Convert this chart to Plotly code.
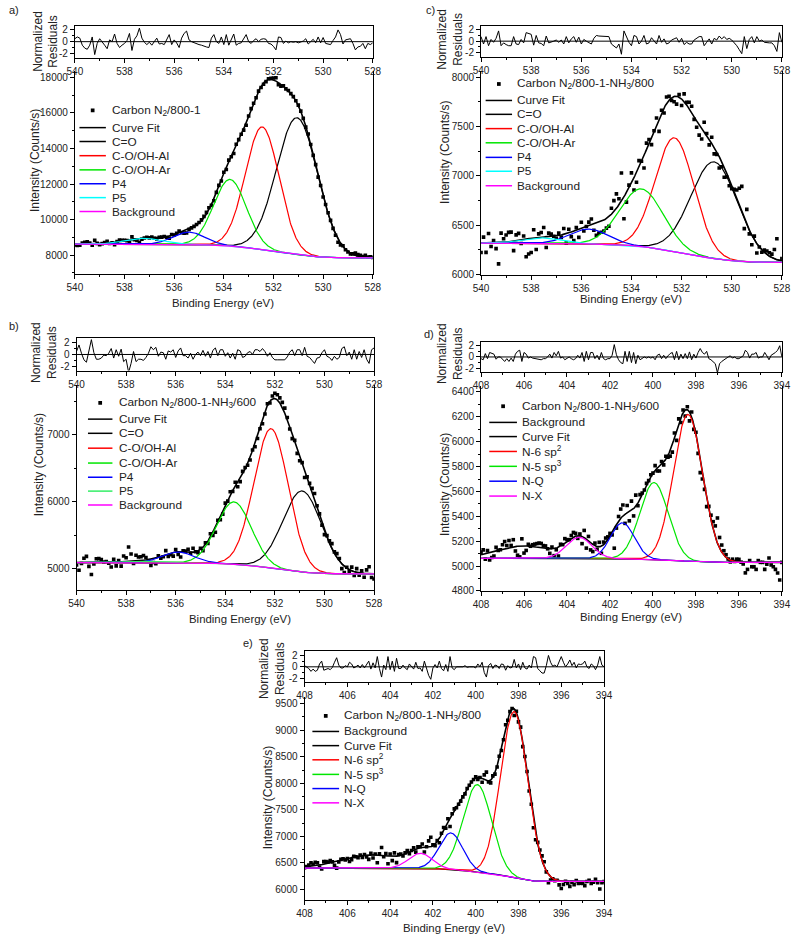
import numpy as np
import plotly.graph_objects as go

W, H = 800, 943
FONT = "Liberation Sans, Arial, Helvetica, sans-serif"

# ---------------- data ----------------
o1s_ticks = [540, 538, 536, 534, 532, 530, 528]
n1s_ticks = [408, 406, 404, 402, 400, 398, 396, 394]
resid_ticks = [-2, 0, 2]
resid_ticktext = ["-2", "0", "2"]

o1s_names = ["C=O", "C-O/OH-Al", "C-O/OH-Ar", "P4", "P5"]
n1s_names = ["N-6 sp<sup>2</sup>", "N-5 sp<sup>3</sup>", "N-Q", "N-X"]

# panel a : O1s, Carbon N2/800-1
a_sample = "Carbon N<sub>2</sub>/800-1"
a_centers = [531.05, 532.45, 533.75, 535.4, 537.2]
a_heights = [7700, 6900, 3750, 700, 330]
a_fwhm = [1.95, 1.6, 1.55, 1.5, 1.8]
a_bg = [8620, 7850]
a_yticks = [8000, 10000, 12000, 14000, 16000, 18000]
a_resid = [0.5, 0.8, 0.6, -0.6, -1.1, -1.3, -0.6, 0.8, -2.2, -0.3,
           0.5, 0.0, -0.6, -1.2, 0.3, 0.0, 1.3, -0.3, -1.0, -0.6,
           -0.3, 0.2, 1.4, -1.5, 0.4, 1.0, 2.3, 0.6, -0.1, -0.5,
           -0.1, -0.6, 0.1, 0.6, -0.4, -0.3, -0.5, 0.3, 1.2, -0.5,
           0.3, -0.2, -1.0, 0.6, 1.4, 1.8, 0.3, 0.0, -0.2, -0.4,
           -0.5, -0.6, -0.8, -0.9, -1.0, 0.6, 1.2, 0.0, -0.3, 0.8,
           -0.5, 1.2, -0.6, 0.4, 1.3, -0.6, -0.3, -0.2, 0.6, 1.2,
           0.0, -0.3, 0.2, 0.5, 0.0, 0.4, 0.5, 0.4, -0.3, -0.4,
           -0.8, -1.4, 0.8, 0.7, -0.3, 0.1, -0.2, 0.0, -0.1, 0.0,
           -0.2, -0.1, 0.1, 0.5, -0.4, 0.0, 0.4, -0.2, 0.8, -0.2,
           0.7, -0.3, -0.4, -0.5, 0.2, 0.8, 2.0, 1.2, -0.4, 0.3,
           0.4, 0.5, -0.3, -1.4, -0.9, -0.8, -0.3, -1.2, -0.3, -0.5,
           -0.2]

# panel b : O1s, Carbon N2/800-1-NH3/600
b_sample = "Carbon N<sub>2</sub>/800-1-NH<sub>3</sub>/600"
b_centers = [530.9, 532.15, 533.65, 535.9, 537.5]
b_heights = [1210, 2080, 930, 160, 20]
b_fwhm = [1.84, 1.63, 1.65, 1.5, 1.5]
b_bg = [5095, 4925]
b_yticks = [5000, 6000, 7000]
b_resid = [0.5, 1.6, 0.2, -0.9, -1.3, 0.8, 2.5, 0.3, -0.8, -0.8,
           -0.6, -0.1, -0.2, 0.2, 1.0, -0.6, 0.8, -0.3, 0.9, -1.2,
           -0.8, -3.0, -1.5, 0.5, -1.2, -0.8, -0.8, -1.0, -0.5, 0.2,
           1.3, 0.8, 1.2, -0.3, 0.4, 0.3, -0.8, 0.6, 0.4, 0.8,
           -0.5, 0.6, 1.1, -0.2, -0.2, -0.6, 0.2, -0.8, 0.0, 0.4,
           -0.2, 0.7, -0.3, 0.5, -0.6, 0.7, 1.1, -0.2, 0.8, 0.8,
           -0.3, 0.3, -0.6, 0.2, -0.8, 0.8, 0.6, -0.5, -0.3, 0.3,
           0.5, 0.0, 0.8, 0.8, 0.5, 1.0, 0.5, -0.3, 0.3, -0.5,
           -0.9, -0.9, -0.9, -0.9, -0.9, -0.4, 0.4, 0.8, -0.2, 0.8,
           0.8, -0.2, 1.2, -0.3, -0.5, -1.0, -1.5, -0.6, -0.5, 0.3,
           0.8, -0.3, -0.5, -1.0, -0.3, -0.8, -0.5, 1.0, 1.3, -0.2,
           0.4, -0.8, 0.8, -0.8, 0.5, -0.5, 0.8, -0.8, -1.5, 0.8,
           1.1]

# panel c : O1s, Carbon N2/800-1-NH3/800
c_sample = "Carbon N<sub>2</sub>/800-1-NH<sub>3</sub>/800"
c_centers = [530.7, 532.28, 533.6, 535.7, 537.6]
c_heights = [980, 1155, 585, 150, 55]
c_fwhm = [2.2, 1.82, 2.05, 1.8, 1.8]
c_bg = [6320, 6125]
c_yticks = [6000, 6500, 7000, 7500, 8000]
c_resid = [0.8, -0.5, 0.8, -0.8, 0.3, -0.2, 0.5, 1.8, -0.8, -0.3,
           -0.6, -0.8, -0.8, 0.8, -0.5, -0.6, 0.3, -0.3, 1.5, 1.3,
           1.2, -0.7, 1.0, -0.3, -0.4, -0.8, 0.9, -0.3, -0.2, 0.0,
           0.2, -0.2, 0.2, -0.5, 0.8, -0.3, 0.4, 0.8, -0.2, 0.7,
           -0.5, 0.3, 0.0, -0.3, -0.5, 0.5, 1.0, 0.9, 0.9, 0.9,
           0.8, 0.8, -0.5, -0.9, -1.2, -0.5, -2.3, 1.8, 0.8, -0.2,
           -0.8, 1.0, 0.8, -0.5, 0.0, 1.0, -0.5, -0.3, 0.6, 0.0,
           -0.5, 1.0, -0.2, 0.4, -0.5, -0.3, 0.2, 0.4, 0.6, -0.2,
           0.5, -0.6, -0.2, -0.5, -0.5, 0.2, 0.5, 0.8, 0.8, -0.8,
           -0.2, 0.4, -0.5, 0.5, 0.2, 0.9, 0.4, 0.8, 0.3, 0.5,
           0.2, -0.3, -0.8, -1.5, -2.2, 0.8, -1.3, 0.3, 0.8, -0.3,
           0.8, 0.0, 0.2, -0.2, -0.3, -0.3, -0.3, -0.8, -1.8, 1.5,
           -0.2]

# panel d : N1s, Carbon N2/800-1-NH3/600
d_sample = "Carbon N<sub>2</sub>/800-1-NH<sub>3</sub>/600"
d_centers = [398.37, 399.95, 401.42, 403.43]
d_heights = [1180, 620, 290, 170]
d_fwhm = [1.6, 1.55, 1.3, 1.4]
d_bg = [5062, 5030]
d_shoulder = [406.0, 100, 3.0]
d_yticks = [4800, 5000, 5200, 5400, 5600, 5800, 6000, 6200, 6400]
d_resid = [-0.3, -0.5, 0.6, -0.3, 0.8, 0.6, 0.5, -0.4, 0.0, 0.0,
           -0.5, -0.8, -0.3, -0.8, -0.2, -0.8, 0.5, 1.0, 1.2, -0.8,
           0.8, 0.5, -0.2, 0.0, -0.2, -0.3, -0.4, -0.5, -0.5, -0.3,
           -0.3, 0.0, 0.5, -0.2, 0.8, 0.2, 1.0, -0.2, 0.0, -0.5,
           -0.2, 0.0, -0.3, -0.5, -0.3, 0.3, -0.2, 0.8, -0.8, 1.0,
           -0.5, 0.8, 0.8, -0.3, 0.3, -0.5, 0.8, -0.3, -0.5, -0.3,
           -0.3, 0.3, 2.2, 0.4, -0.5, -1.0, -1.2, 1.0, -0.8, 1.0,
           -1.0, 0.8, -1.2, 0.3, -0.5, -0.2, 0.0, -0.2, 0.0, -0.2,
           0.0, -0.5, 0.3, 0.5, -0.3, 0.3, -0.3, 0.2, 0.6, 0.8,
           -0.5, 1.0, -0.5, 0.5, -0.3, 0.6, -0.3, 0.9, -0.5, 0.5,
           -0.2, 0.8, 1.5, 0.8, 0.5, 1.0, -0.3, -0.5, -0.8, -1.2,
           -2.8, -1.2, -0.8, -0.5, -0.3, 0.0, 0.2, -0.2, 0.0, -0.3,
           -0.3, 0.0, 0.2, 1.2, 0.8, -0.2, 0.5, 0.5, 0.8, -0.2,
           0.0, 0.0, 0.8, 0.2, -0.5, 0.3, 0.5, 0.8, 1.2, 2.0,
           0.0]

# panel e : N1s, Carbon N2/800-1-NH3/800
e_sample = "Carbon N<sub>2</sub>/800-1-NH<sub>3</sub>/800"
e_centers = [398.2, 399.92, 401.16, 402.58]
e_heights = [3130, 1650, 690, 285]
e_fwhm = [1.5, 1.55, 1.3, 1.3]
e_bg = [6400, 6150]
e_shoulder = [404.8, 250, 3.5]
e_yticks = [6000, 6500, 7000, 7500, 8000, 8500, 9000, 9500]
e_resid = [0.2, 0.0, -0.3, -0.8, -0.4, -0.8, -0.6, 0.5, 1.0, -0.6,
           -0.5, -0.3, -0.5, -0.1, 0.8, 1.6, 0.3, -0.2, -0.2, 0.2,
           0.0, 0.8, 0.5, -0.2, 0.0, 0.3, -0.2, 0.4, -0.2, 0.4,
           1.0, -0.4, 0.7, -0.2, 1.8, -0.3, -1.8, 0.3, -0.5, 1.8,
           -0.5, 1.0, -0.8, 1.5, -0.3, -0.3, 0.3, -0.2, -0.5, 0.5,
           0.0, -0.4, 0.8, -0.3, -0.2, -0.8, 1.0, -0.2, -1.5, -2.2,
           -0.2, 0.4, -0.2, 1.0, -0.3, -0.7, 0.4, -0.8, 1.8, -0.2,
           -0.5, 0.0, 0.0, 0.1, 0.0, 0.2, -0.1, 0.0, 0.0, 0.0,
           -0.2, 0.5, 0.0, 0.8, -1.0, -1.8, 0.2, 0.6, -0.3, 0.3,
           0.2, -0.3, 0.5, 0.4, -0.6, 0.2, -0.2, -0.1, 1.3, -0.2,
           0.5, -0.5, 0.8, -0.2, -0.4, 0.3, -0.2, 1.8, 1.6, -0.3,
           -0.7, -1.1, -1.1, 0.2, 2.0, 0.8, 0.1, 0.3, 0.0, 1.0,
           1.8, 0.8, 0.0, 0.5, 1.2, 0.2, 0.8, -0.2, 0.5, 0.4,
           0.5, 1.0, 0.0, -0.3, 0.5, 0.2, -0.5, 0.3, 1.8, 0.3,
           0.0]

o1s_colors = ["#000000", "#ff0000", "#00e600", "#0000ff", "#00ffff"]
o1s_colors_b = ["#000000", "#ff0000", "#00e600", "#0000ff", "#33ee66"]
n1s_colors = ["#ff0000", "#00e600", "#0000ff", "#ff00ff"]
BG_O = "#ff00ff"

# ---------------- helpers ----------------
def fx(px):
    return px / W

def fy(py):
    return 1 - py / H

def gauss(x, c, h, w):
    return h * np.exp(-4.0 * np.log(2.0) * ((x - c) / w) ** 2)

def build(xs, centers, heights, fwhm, bg, shoulder=None):
    comps = [gauss(xs, c, h, w) for c, h, w in zip(centers, heights, fwhm)]
    peaks = np.sum(comps, axis=0)
    cum = np.cumsum(peaks[::-1])[::-1]          # area on the low-BE side (Shirley)
    bgl = bg[1] + (bg[0] - bg[1]) * cum / cum[0]
    fit = bgl + peaks
    if shoulder is not None:
        fit = fit + gauss(xs, *shoulder)
    return bgl, comps, fit

xs_o = np.linspace(540, 528, 601)
xs_n = np.linspace(408, 394, 701)

panels = [
    dict(key="a", xs=xs_o, c=a_centers, h=a_heights, w=a_fwhm, bg=a_bg, sh=None,
         resid=a_resid, sample=a_sample, yticks=a_yticks, xticks=o1s_ticks, kind="O",
         colors=o1s_colors, noise=1.0,
         px=(68.3, 372.7), ry=(24, 56), my=(70, 274), yr=(6958, 18334), ymin=1000,
         leg=dict(l0=73, l1=100, tx=104, ys=[109.3, 126.7, 140.7, 155, 169.3, 183.3, 197.3, 211.3]),
         ylab=(27, 160), rlab=(38, 40), xlab=(220, 304), tag=(6, 8)),
    dict(key="c", xs=xs_o, c=c_centers, h=c_heights, w=c_fwhm, bg=c_bg, sh=None,
         resid=c_resid, sample=c_sample, yticks=c_yticks, xticks=o1s_ticks, kind="O",
         colors=o1s_colors, noise=1.5,
         px=(483.3, 790.7), ry=(24, 55), my=(70, 275), yr=(6000, 8060), ymin=250,
         leg=dict(l0=488, l1=515, tx=518.3, ys=[82.7, 99.3, 113.3, 127.7, 142, 156.7, 170.7, 185.3]),
         ylab=(446.7, 152), rlab=(451.7, 38), xlab=(636.7, 300), tag=(432, 8)),
    dict(key="b", xs=xs_o, c=b_centers, h=b_heights, w=b_fwhm, bg=b_bg, sh=None,
         resid=b_resid, sample=b_sample, yticks=b_yticks, xticks=o1s_ticks, kind="O",
         colors=o1s_colors_b, noise=1.0,
         px=(70, 374), ry=(339.3, 371.7), my=(386, 592.7), yr=(4690, 7750), ymin=500,
         leg=dict(l0=81.7, l1=106.7, tx=111, ys=[404.3, 420.7, 435, 450, 465, 479.3, 493.3, 507.3]),
         ylab=(32, 467), rlab=(36.7, 353), xlab=(236.7, 622), tag=(6, 327)),
    dict(key="d", xs=xs_n, c=d_centers, h=d_heights, w=d_fwhm, bg=d_bg, sh=d_shoulder,
         resid=d_resid, sample=d_sample, yticks=d_yticks, xticks=n1s_ticks, kind="N",
         colors=n1s_colors, noise=1.0,
         px=(483.3, 790.7), ry=(342.7, 373.3), my=(387, 594), yr=(4800, 6450), ymin=100,
         leg=dict(l0=491.7, l1=520, tx=522.7, ys=[407.7, 424, 438.3, 453.3, 468.3, 483.3, 498.3]),
         ylab=(446.7, 487), rlab=(451.7, 355), xlab=(636.7, 620), tag=(430, 335)),
    dict(key="e", xs=xs_n, c=e_centers, h=e_heights, w=e_fwhm, bg=e_bg, sh=e_shoulder,
         resid=e_resid, sample=e_sample, yticks=e_yticks, xticks=n1s_ticks, kind="N",
         colors=n1s_colors, noise=1.0,
         px=(303, 609), ry=(655, 686), my=(701, 905.7), yr=(5800, 9625), ymin=250,
         leg=dict(l0=311, l1=338.3, tx=341, ys=[720, 735.7, 750, 764.3, 779, 793.3, 807.7]),
         ylab=(265.7, 803), rlab=(270.5, 672), xlab=(456, 934), tag=(245, 646)),
]

fig = go.Figure()
layout = dict(width=W, height=H, margin=dict(l=0, r=0, t=0, b=0),
              paper_bgcolor="white", plot_bgcolor="white", showlegend=False,
              font=dict(family=FONT, color="#222"))
shapes, annotations = [], []

tickfont = dict(family=FONT, size=10, color="#222")
base_axis = dict(showline=True, linecolor="black", linewidth=1, ticks="outside",
                 ticklen=4, tickwidth=1, tickcolor="black", showgrid=False,
                 zeroline=False, tickfont=tickfont)

for i, p in enumerate(panels):
    ri, mi = 2 * i + 1, 2 * i + 2
    rx = "x" if ri == 1 else f"x{ri}"
    ryn = "y" if ri == 1 else f"y{ri}"
    mx, myn = f"x{mi}", f"y{mi}"
    xs = p["xs"]
    bgl, comps, fit = build(xs, p["c"], p["h"], p["w"], p["bg"], p["sh"])
    xd = xs[::5]
    fitd = fit[::5]
    resid = np.array(p["resid"])
    yd = fitd - resid * np.sqrt(fitd) * p["noise"]
    xr = [xs[0], xs[-1]]
    tick0 = xs[-1]

    # residual panel
    fig.add_trace(go.Scatter(x=xd, y=resid, mode="lines", line=dict(color="black", width=1),
                             xaxis=rx, yaxis=ryn, name="Normalized Residuals"))
    shapes.append(dict(type="line", xref=f"{rx} domain", yref=ryn, x0=0, x1=1, y0=0, y1=0,
                       line=dict(color="black", width=1)))

    # main panel
    fig.add_trace(go.Scatter(x=xd, y=yd, mode="markers", name=p["sample"],
                             marker=dict(symbol="square", size=3.6, color="black"),
                             xaxis=mx, yaxis=myn))
    if p["kind"] == "O":
        fig.add_trace(go.Scatter(x=xs, y=fit, mode="lines", name="Curve Fit",
                                 line=dict(color="black", width=1.6), xaxis=mx, yaxis=myn))
        for nm, col, cp in zip(o1s_names, p["colors"], comps):
            fig.add_trace(go.Scatter(x=xs, y=bgl + cp, mode="lines", name=nm,
                                     line=dict(color=col, width=1.2), xaxis=mx, yaxis=myn))
        fig.add_trace(go.Scatter(x=xs, y=bgl, mode="lines", name="Background",
                                 line=dict(color=BG_O, width=1.3), xaxis=mx, yaxis=myn))
        leg_items = ([("Curve Fit", "black")] + list(zip(o1s_names, p["colors"]))
                     + [("Background", BG_O)])
    else:
        fig.add_trace(go.Scatter(x=xs, y=bgl, mode="lines", name="Background",
                                 line=dict(color="black", width=1.2), xaxis=mx, yaxis=myn))
        fig.add_trace(go.Scatter(x=xs, y=fit, mode="lines", name="Curve Fit",
                                 line=dict(color="black", width=1.6), xaxis=mx, yaxis=myn))
        for nm, col, cp in zip(n1s_names, p["colors"], comps):
            fig.add_trace(go.Scatter(x=xs, y=bgl + cp, mode="lines", name=nm,
                                     line=dict(color=col, width=1.2), xaxis=mx, yaxis=myn))
        leg_items = ([("Background", "black"), ("Curve Fit", "black")]
                     + list(zip(n1s_names, p["colors"])))

    xdom = [fx(p["px"][0]), fx(p["px"][1])]
    # axes
    layout["xaxis" + ("" if ri == 1 else str(ri))] = dict(
        base_axis, domain=xdom, range=xr, anchor=ryn, mirror=True,
        tickmode="array", tickvals=p["xticks"], tickformat="d",
        minor=dict(ticks="outside", ticklen=2, tickcolor="black", tickmode="linear",
                   tick0=tick0, dtick=1))
    layout["yaxis" + ("" if ri == 1 else str(ri))] = dict(
        base_axis, domain=[fy(p["ry"][1]), fy(p["ry"][0])], range=[-2.7, 2.7],
        anchor=rx, mirror=True, tickmode="array", tickvals=resid_ticks,
        ticktext=resid_ticktext,
        minor=dict(ticks="outside", ticklen=2, tickcolor="black", tickmode="linear",
                   tick0=0, dtick=1))
    layout[f"xaxis{mi}"] = dict(
        base_axis, domain=xdom, range=xr, anchor=myn, mirror=False,
        tickmode="array", tickvals=p["xticks"], tickformat="d",
        minor=dict(ticks="outside", ticklen=2, tickcolor="black", tickmode="linear",
                   tick0=tick0, dtick=1))
    layout[f"yaxis{mi}"] = dict(
        base_axis, domain=[fy(p["my"][1]), fy(p["my"][0])], range=list(p["yr"]),
        anchor=mx, mirror=True, tickmode="array", tickvals=p["yticks"], tickformat="d",
        minor=dict(ticks="outside", ticklen=2, tickcolor="black", tickmode="linear",
                   tick0=p["yticks"][0], dtick=p["ymin"]))

    # legend (drawn manually to match the compact original spacing)
    lg = p["leg"]
    ys = lg["ys"]
    mxp = (lg["l0"] + lg["l1"]) / 2
    shapes.append(dict(type="rect", xref="paper", yref="paper",
                       x0=fx(mxp - 1.9), x1=fx(mxp + 1.9), y0=fy(ys[0] + 1.9), y1=fy(ys[0] - 1.9),
                       fillcolor="black", line=dict(width=0)))
    annotations.append(dict(text=p["sample"], x=fx(lg["tx"]), y=fy(ys[0]), xref="paper",
                            yref="paper", xanchor="left", yanchor="middle", showarrow=False,
                            font=dict(family=FONT, size=11.8, color="#222")))
    for (nm, col), yy in zip(leg_items, ys[1:]):
        shapes.append(dict(type="line", xref="paper", yref="paper",
                           x0=fx(lg["l0"]), x1=fx(lg["l1"]), y0=fy(yy), y1=fy(yy),
                           line=dict(color=col, width=1.5)))
        annotations.append(dict(text=nm, x=fx(lg["tx"]), y=fy(yy), xref="paper",
                                yref="paper", xanchor="left", yanchor="middle",
                                showarrow=False,
                                font=dict(family=FONT, size=11.8, color="#222")))

    # axis titles and panel tag
    annotations.append(dict(text="Intensity (Counts/s)", x=fx(p["ylab"][0]), y=fy(p["ylab"][1]),
                            xref="paper", yref="paper", textangle=-90, showarrow=False,
                            xanchor="center", yanchor="middle",
                            font=dict(family=FONT, size=12, color="#222")))
    annotations.append(dict(text="Normalized<br>Residuals", x=fx(p["rlab"][0]), y=fy(p["rlab"][1]),
                            xref="paper", yref="paper", textangle=-90, showarrow=False,
                            xanchor="center", yanchor="middle",
                            font=dict(family=FONT, size=12, color="#222")))
    annotations.append(dict(text="Binding Energy (eV)", x=fx(p["xlab"][0]), y=fy(p["xlab"][1]),
                            xref="paper", yref="paper", showarrow=False,
                            xanchor="center", yanchor="middle",
                            font=dict(family=FONT, size=11.4, color="#222")))
    annotations.append(dict(text=p["key"] + ")", x=fx(p["tag"][0]), y=fy(p["tag"][1]),
                            xref="paper", yref="paper", showarrow=False,
                            xanchor="center", yanchor="middle",
                            font=dict(family=FONT, size=11, color="#222")))

layout["shapes"] = shapes
layout["annotations"] = annotations
fig.update_layout(**layout)
fig.write_html("out.html", config={"displayModeBar": False},
               post_script="document.body.style.margin='0';document.body.style.overflow='hidden';")
